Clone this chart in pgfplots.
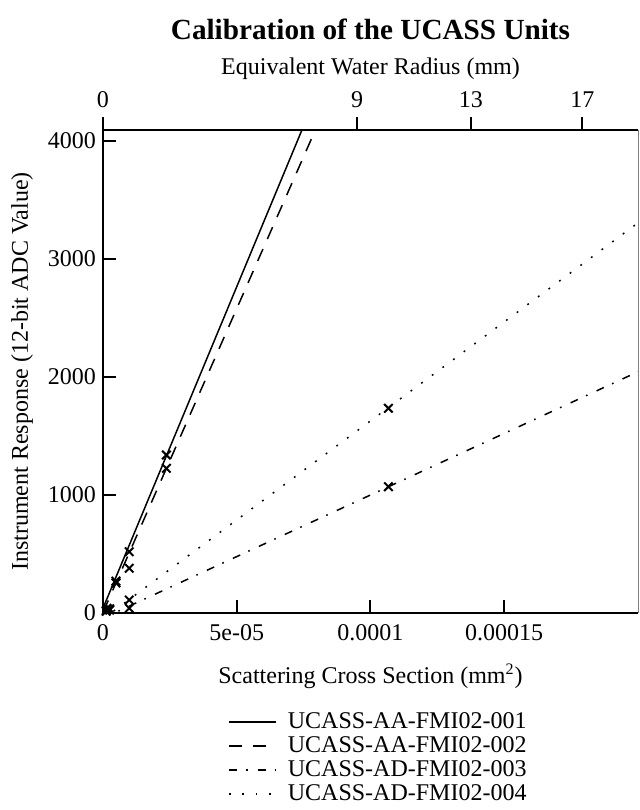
\documentclass[border=0pt]{standalone}
\usepackage{fontspec}
\setmainfont{Liberation Serif}
\usepackage{pgfplots}
\pgfplotsset{compat=1.18}

\begin{document}
\begin{tikzpicture}
\pgfplotsset{
  calib/.style={
    scale only axis, width=267.5pt, height=241.5pt,
    xmin=0, xmax=2e-4, ymin=0, ymax=4093,
    scaled x ticks=false, scaled y ticks=false,
    font=\fontsize{12}{14}\selectfont,
    tick style={line width=1pt, black},
    major tick length=6.5pt,
  },
  fitline/.style={black, line width=0.75pt},
  pts/.style={only marks, mark=x, mark size=3pt, mark options={black, line width=1pt}, forget plot},
}
% main axis: cross section vs ADC value
\begin{axis}[calib,
  axis x line*=bottom, axis y line*=left,
  axis line style={line width=1pt},
  tick align=inside,
  xtick={0,5e-5,1e-4,1.5e-4},
  xticklabels={0,5e-05,0.0001,0.00015},
  xticklabel style={yshift=-2pt},
  ytick={0,1000,2000,3000,4000},
  yticklabels={0,1000,2000,3000,4000},
  xlabel={Scattering Cross Section (mm\textsuperscript{2})},
  ylabel={Instrument Response (12-bit ADC Value)},
  xlabel style={at={(axis description cs:0.5,-0.131)}, anchor=center},
  ylabel style={at={(axis description cs:-0.151,0.5)}, anchor=center},
  title={Calibration of the UCASS Units},
  title style={at={(axis description cs:0.5,1.184)}, anchor=center,
    font=\fontsize{14.6}{17}\selectfont\bfseries},
  clip mode=individual,
  legend style={at={(axis description cs:0.2336,-0.1967)}, anchor=north west,
    draw=none, fill=none, inner sep=0pt, row sep=-1.5pt,
    /tikz/every odd column/.append style={column sep=3.5pt}},
  legend cell align=left,
  legend image code/.code={\draw[#1] (0pt,0pt) -- (23.5pt,0pt);},
]
\addplot[fitline] coordinates {(0,40) (7.6e-5,4182)};
\addlegendentry{UCASS-AA-FMI02-001}
\addplot[fitline, dash pattern=on 6.5pt off 5.5pt] coordinates {(0,5) (8.0e-5,4125)};
\addlegendentry{UCASS-AA-FMI02-002}
\addplot[fitline, dash pattern=on 4pt off 4.5pt on 0.8pt off 5pt] coordinates {(0,-44) (2e-4,2044)};
\addlegendentry{UCASS-AD-FMI02-003}
\addplot[fitline, dash pattern=on 0.9pt off 5.7pt] coordinates {(0,-50) (2e-4,3306)};
\addlegendentry{UCASS-AD-FMI02-004}

% measured points
\addplot[pts] coordinates {(1.5e-6,40) (4.84e-6,270) (9.8e-6,519) (2.37e-5,1339)};
\addplot[pts] coordinates {(1.5e-6,30) (4.84e-6,255) (9.8e-6,379) (2.37e-5,1226)};
\addplot[pts] coordinates {(1.2e-6,15) (2.5e-6,25) (9.8e-6,40) (1.067e-4,1070)};
\addplot[pts] coordinates {(1.2e-6,20) (2.5e-6,35) (9.8e-6,110) (1.067e-4,1735)};
\end{axis}

% top axis: equivalent water radius
\begin{axis}[calib,
  axis x line*=top, axis y line*=right,
  x axis line style={line width=1pt},
  y axis line style={line width=0.4pt, gray},
  ytick=\empty,
  tick align=outside,
  xtick={0,9.50e-5,1.375e-4,1.792e-4},
  xticklabels={0,9,13,17},
  xticklabel style={yshift=1pt},
  xlabel={Equivalent Water Radius (mm)},
  xlabel style={at={(axis description cs:0.5,1.126)}, anchor=center},
]
\end{axis}
\path (-51.5pt,-98.5pt) rectangle (268.5pt,306.5pt);
\end{tikzpicture}
\end{document}
